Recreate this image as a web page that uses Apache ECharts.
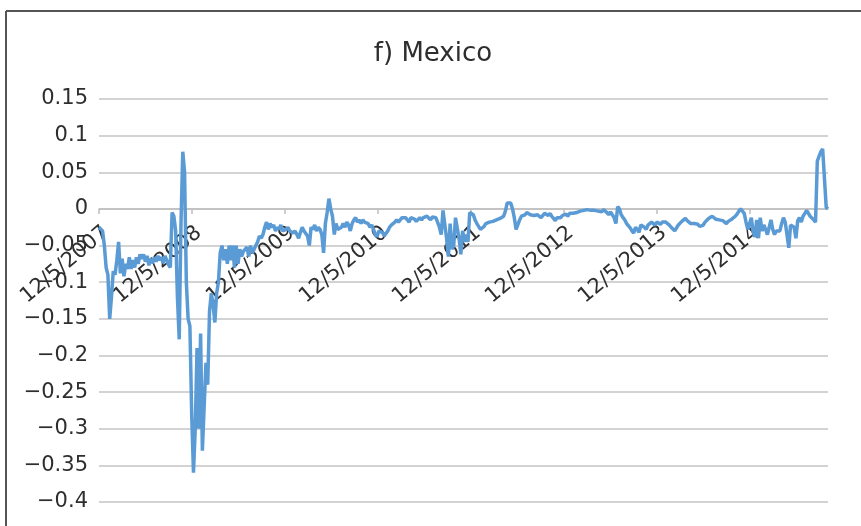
<!DOCTYPE html>
<html>
<head>
<meta charset="utf-8">
<script src="https://cdn.jsdelivr.net/npm/echarts@6/dist/echarts.min.js"></script>
<style>html,body{margin:0;padding:0;background:#fff}#c{width:861px;height:526px}</style>
</head>
<body>
<div id="c"></div>
<script>
const title = 'f) Mexico';
const tickLabels = ['12/5/2007','12/5/2008','12/5/2009','12/5/2010','12/5/2011','12/5/2012','12/5/2013','12/5/2014'];
const weeksPerYear = 365.25 / 7;
// weekly values starting 12/5/2007
const y2008 = [-0.025,-0.025,-0.03,-0.05,-0.08,-0.09,-0.15,-0.12,-0.085,-0.09,-0.07,-0.045,-0.088,-0.068,-0.092,-0.075,-0.082,-0.066,-0.082,-0.07,-0.08,-0.066,-0.075,-0.062,-0.068,-0.062,-0.072,-0.064,-0.077,-0.068,-0.074,-0.066,-0.072,-0.064,-0.07,-0.066,-0.074,-0.064,-0.07,-0.076,-0.08,-0.005,-0.01,-0.03,-0.12,-0.178,-0.02,0.078,0.05,-0.10,-0.15,-0.16];
const y2009 = [-0.28,-0.36,-0.30,-0.19,-0.30,-0.17,-0.33,-0.33,-0.21,-0.24,-0.14,-0.115,-0.13,-0.155,-0.115,-0.10,-0.06,-0.05,-0.07,-0.055,-0.075,-0.05,-0.07,-0.05,-0.08,-0.05,-0.075,-0.055,-0.065,-0.058,-0.06,-0.052,-0.065,-0.05,-0.06,-0.055,-0.05,-0.045,-0.037,-0.04,-0.035,-0.025,-0.018,-0.028,-0.02,-0.025,-0.022,-0.03,-0.025,-0.028,-0.022,-0.03,-0.028];
const y2010 = [-0.028,-0.025,-0.03,-0.028,-0.033,-0.03,-0.035,-0.04,-0.032,-0.025,-0.03,-0.028,-0.037,-0.05,-0.025,-0.028,-0.022,-0.03,-0.025,-0.028,-0.035,-0.06,-0.02,-0.005,0.014,0.0,-0.01,-0.035,-0.02,-0.028,-0.03,-0.025,-0.02,-0.025,-0.018,-0.022,-0.03,-0.02,-0.015,-0.012,-0.018,-0.015,-0.02,-0.015,-0.018,-0.016,-0.02,-0.025,-0.022,-0.028,-0.035,-0.038];
const y2011 = [-0.03,-0.028,-0.032,-0.037,-0.035,-0.03,-0.025,-0.022,-0.02,-0.018,-0.015,-0.018,-0.015,-0.012,-0.01,-0.012,-0.015,-0.018,-0.012,-0.01,-0.014,-0.017,-0.015,-0.012,-0.015,-0.012,-0.014,-0.01,-0.012,-0.015,-0.011,-0.009,-0.012,-0.01,-0.025,-0.035,-0.002,0.0,-0.04,-0.065,-0.02,-0.055,-0.05,-0.012,-0.01,-0.04,-0.062,-0.03,-0.045,-0.035,-0.045,-0.005];
const y2012 = [-0.003,-0.008,-0.015,-0.02,-0.018,-0.028,-0.03,-0.024,-0.02,-0.022,-0.018,-0.02,-0.017,-0.016,-0.015,-0.017,-0.013,-0.012,-0.01,-0.003,0.008,0.009,0.008,0.0,-0.012,-0.028,-0.03,-0.015,-0.01,-0.012,-0.008,-0.005,-0.007,-0.008,-0.01,-0.009,-0.011,-0.008,-0.009,-0.012,-0.01,-0.006,-0.007,-0.009,-0.006,-0.01,-0.013,-0.016,-0.012,-0.01,-0.012,-0.009,-0.008];
const y2013 = [-0.007,-0.01,-0.006,-0.005,-0.006,-0.008,-0.005,-0.004,-0.003,-0.005,-0.002,-0.003,-0.001,0.0,-0.002,0.0,-0.002,-0.001,-0.003,-0.002,-0.004,-0.001,-0.003,-0.005,-0.008,-0.004,-0.006,-0.012,-0.02,0.003,0.0,-0.008,-0.012,-0.015,-0.02,-0.022,-0.026,-0.03,-0.033,-0.025,-0.028,-0.032,-0.022,-0.02,-0.025,-0.028,-0.022,-0.02,-0.018,-0.02,-0.022,-0.018];
const y2014 = [-0.02,-0.021,-0.018,-0.016,-0.018,-0.02,-0.022,-0.025,-0.027,-0.03,-0.032,-0.022,-0.02,-0.017,-0.015,-0.013,-0.016,-0.018,-0.02,-0.022,-0.02,-0.018,-0.021,-0.024,-0.026,-0.022,-0.018,-0.016,-0.013,-0.011,-0.01,-0.012,-0.014,-0.012,-0.015,-0.017,-0.016,-0.018,-0.02,-0.017,-0.015,-0.014,-0.012,-0.01,-0.007,-0.003,0.0,0.001,-0.006,-0.018,-0.028,-0.02];
const y2015 = [-0.012,-0.032,-0.038,-0.015,-0.04,-0.012,-0.03,-0.022,-0.028,-0.035,-0.025,-0.015,-0.028,-0.035,-0.03,-0.028,-0.03,-0.02,-0.012,-0.018,-0.02,-0.053,-0.022,-0.02,-0.025,-0.04,-0.016,-0.012,-0.018,-0.01,-0.006,-0.002,-0.004,-0.01,-0.012,-0.015,-0.018,0.065,0.072,0.078,0.082,0.08,0.002,0.0];
const yTicks = {min: -0.4, max: 0.15, step: 0.05};
const values = [].concat(y2008, y2009, y2010, y2011, y2012, y2013, y2014, y2015);
const seriesData = values.map((v, i) => [i / weeksPerYear, v]);
const xMax = (values.length - 1) / weeksPerYear;

const gridTop = 99, gridBottom = 24, chartH = 526;
const plotH = chartH - gridTop - gridBottom;
const zeroY = gridTop + plotH * (yTicks.max / (yTicks.max - yTicks.min));
const xOffset = -((chartH - gridBottom) - zeroY);

const font = '"DejaVu Sans", sans-serif';
const txt = '#2e2e2e';
const chart = echarts.init(document.getElementById('c'), null, {renderer: 'canvas'});
chart.setOption({
  backgroundColor: '#ffffff',
  animation: false,
  title: {
    text: title, left: 428, top: 36, textAlign: 'center',
    textStyle: {fontFamily: font, fontSize: 26, fontWeight: 'normal', color: txt}
  },
  grid: {left: 99, right: 33, top: gridTop, bottom: gridBottom, containLabel: false, outerBoundsMode: 'none'},
  xAxis: {
    type: 'value', min: 0, max: xMax, interval: 1, position: 'bottom', offset: xOffset,
    axisLine: {onZero: false, lineStyle: {color: '#bfbfbf', width: 1.5}},
    axisTick: {show: true, length: 5, lineStyle: {color: '#bfbfbf', width: 1.5}},
    splitLine: {show: false},
    axisLabel: {
      rotate: 40, margin: 27, padding: [0, -9, 0, 0], showMaxLabel: false, hideOverlap: false,
      fontFamily: font, fontSize: 21, color: txt,
      formatter: v => { const k = Math.round(v); return Math.abs(v - k) < 1e-6 && tickLabels[k] ? tickLabels[k] : ''; }
    }
  },
  yAxis: {
    type: 'value', min: yTicks.min, max: yTicks.max, interval: yTicks.step,
    axisLine: {show: false}, axisTick: {show: false},
    splitLine: {lineStyle: {color: '#c4c4c4', width: 1.5}},
    axisLabel: {
      margin: 11, fontFamily: font, fontSize: 21, color: txt,
      formatter: v => { const r = Math.round(v * 100) / 100; return r === 0 ? '0' : String(r).replace('-', '\u2212'); }
    }
  },
  series: [{
    type: 'line', data: seriesData, showSymbol: false, symbol: 'none',
    lineStyle: {color: '#5b9bd5', width: 3.5}, z: 3
  }],
  graphic: [
    {type: 'line', shape: {x1: 6, y1: 11, x2: 861, y2: 11}, style: {stroke: '#555555', lineWidth: 2}},
    {type: 'line', shape: {x1: 6, y1: 11, x2: 6, y2: 526}, style: {stroke: '#555555', lineWidth: 2}}
  ]
});
</script>
</body>
</html>
